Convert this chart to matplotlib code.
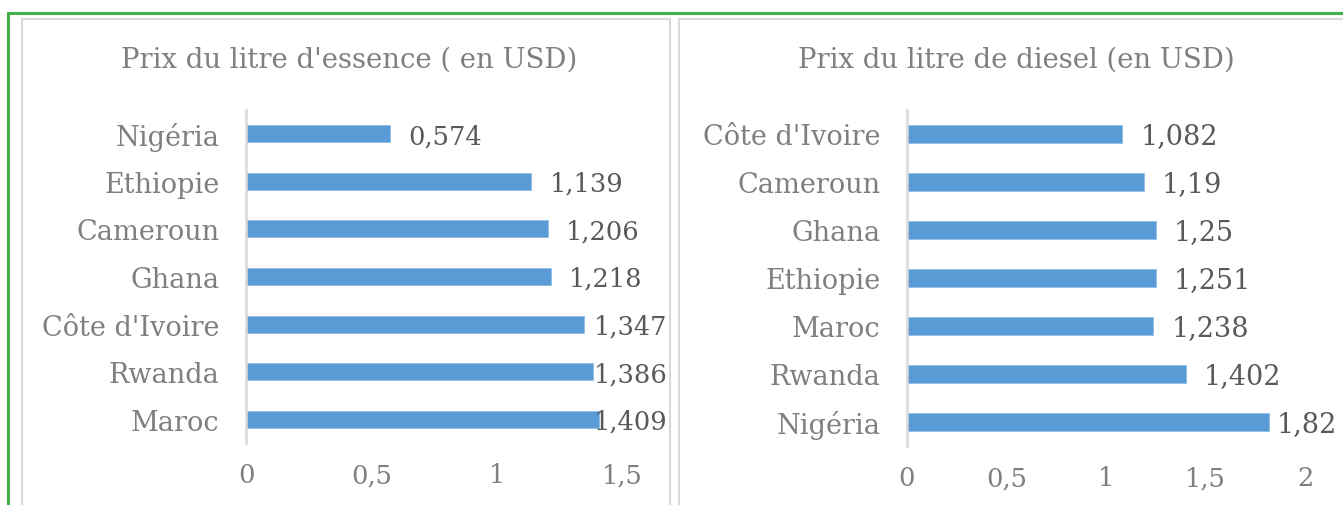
import matplotlib
matplotlib.use("Agg")
import matplotlib.pyplot as plt
from matplotlib.patches import Rectangle

# ── data ─────────────────────────────────────────────────────────────────────
essence_pays = ["Nigéria", "Ethiopie", "Cameroun", "Ghana", "Côte d'Ivoire", "Rwanda", "Maroc"]
essence_prix = [0.574, 1.139, 1.206, 1.218, 1.347, 1.386, 1.409]
essence_labels = ["0,574", "1,139", "1,206", "1,218", "1,347", "1,386", "1,409"]
essence_ticks = [0, 0.5, 1, 1.5]
essence_ticklabels = ["0", "0,5", "1", "1,5"]

diesel_pays = ["Côte d'Ivoire", "Cameroun", "Ghana", "Ethiopie", "Maroc", "Rwanda", "Nigéria"]
diesel_prix = [1.082, 1.19, 1.25, 1.251, 1.238, 1.402, 1.82]
diesel_labels = ["1,082", "1,19", "1,25", "1,251", "1,238", "1,402", "1,82"]
diesel_ticks = [0, 0.5, 1, 1.5, 2]
diesel_ticklabels = ["0", "0,5", "1", "1,5", "2"]

BAR = "#5b9bd5"
GRAY = "#7f7f7f"
DARK = "#595959"
AXIS = "#d9d9d9"
FONT = "DejaVu Serif"

W, H = 1343, 506
fig = plt.figure(figsize=(W / 100, H / 100), dpi=100)


def px(x0, y0, x1, y1):
    return [x0 / W, 1 - y1 / H, (x1 - x0) / W, (y1 - y0) / H]


# frames: green outer, gray panels
fig.patches.append(Rectangle((8 / W, -0.05), 1.2, 1 - 14 / H + 0.05,
                             transform=fig.transFigure, fill=False,
                             edgecolor="#43b049", lw=2.2))
fig.patches.append(Rectangle((22 / W, -0.05), (670 - 22) / W, 1 - 20 / H + 0.05,
                             transform=fig.transFigure, fill=False,
                             edgecolor=AXIS, lw=1.5))
fig.patches.append(Rectangle((679 / W, -0.05), 0.6, 1 - 20 / H + 0.05,
                             transform=fig.transFigure, fill=False,
                             edgecolor=AXIS, lw=1.5))


def panel(rect, pays, prix, labels, ticks, ticklabels, xmax, title, title_x,
          clamp, label_size):
    ax = fig.add_axes(rect)
    y = range(len(pays))
    ax.barh(y, prix, height=0.36, color=BAR, edgecolor="#8fbce6", lw=0.6)
    ax.set_ylim(len(pays) - 0.5, -0.5)
    ax.set_xlim(0, xmax)
    ax.set_yticks(list(y))
    ax.set_yticklabels(pays, fontsize=19.5, color=GRAY, family=FONT)
    ax.set_xticks(ticks)
    ax.set_xticklabels(ticklabels, fontsize=18.5, color=GRAY, family=FONT)
    ax.tick_params(length=0)
    ax.tick_params(axis="y", pad=19)
    ax.tick_params(axis="x", pad=14)
    for s in ["top", "right", "bottom"]:
        ax.spines[s].set_visible(False)
    ax.spines["left"].set_color(AXIS)
    ax.spines["left"].set_linewidth(1.8)
    for yi, v, lab in zip(y, prix, labels):
        ax.text(min(v + xmax * 0.045, clamp), yi + 0.04, lab, va="center", ha="left",
                fontsize=label_size, color=DARK, family=FONT)
    fig.text(title_x / W, 1 - 60 / H, title, ha="center", va="center",
             fontsize=19.8, color=GRAY, family=FONT)
    return ax


panel(px(246, 111, 647, 444), essence_pays, essence_prix, essence_labels,
      essence_ticks, essence_ticklabels, 1.6,
      "Prix du litre d'essence ( en USD)", 349, 1.39, 18.5)
panel(px(907, 111, 1305, 447), diesel_pays, diesel_prix, diesel_labels,
      diesel_ticks, diesel_ticklabels, 2.0,
      "Prix du litre de diesel (en USD)", 1016, 1.86, 19.5)

fig.savefig("out.png", dpi=100)
